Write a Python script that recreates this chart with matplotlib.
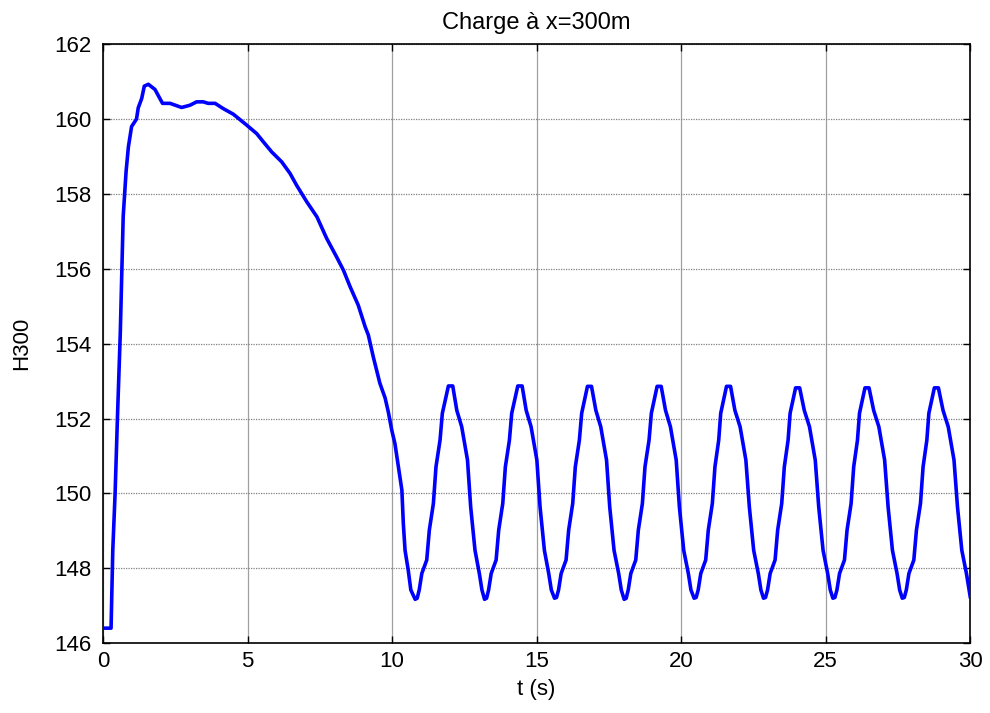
#Charge at x=300m : head H300 vs time
#
#

import matplotlib.pyplot as plt
import numpy as np

plt.rcParams['font.family'] = ['Liberation Sans', 'DejaVu Sans']

# start-up transient
t_rise = [0, 0.28, 0.34, 0.42, 0.50, 0.60, 0.70, 0.80, 0.88, 0.99, 1.16, 1.22, 1.34, 1.43, 1.57,
          1.80, 2.06, 2.32, 2.72, 3.01, 3.24, 3.47, 3.64, 3.88, 4.16, 4.51, 4.97, 5.32, 5.55,
          5.84, 6.18, 6.47, 6.70, 7.05, 7.40, 7.74, 8.08, 8.32, 8.55, 8.83, 9.07, 9.18, 9.35,
          9.58, 9.76, 9.87, 9.99, 10.10, 10.22, 10.34, 10.39, 10.45, 10.56, 10.65]
H_rise = [146.4, 146.4, 148.49, 150.0, 152.0, 154.3, 157.4, 158.6, 159.26, 159.8, 160.0, 160.3,
          160.55, 160.88, 160.93, 160.79, 160.42, 160.42, 160.31, 160.37, 160.46, 160.46, 160.42,
          160.42, 160.28, 160.13, 159.84, 159.61, 159.39, 159.12, 158.86, 158.55, 158.23, 157.79,
          157.39, 156.81, 156.32, 155.96, 155.52, 155.03, 154.45, 154.23, 153.65, 152.94, 152.55,
          152.18, 151.69, 151.33, 150.71, 150.09, 149.20, 148.48, 147.95, 147.42]

# oscillation part, one row per cycle (trough -> trough)
t_osc = [
    [10.80, 10.87, 10.94, 11.03, 11.20, 11.29, 11.43, 11.52, 11.66, 11.74, 11.95, 12.10, 12.24, 12.41, 12.61, 12.72, 12.87, 13.02, 13.11],
    [13.20, 13.27, 13.34, 13.43, 13.60, 13.69, 13.83, 13.92, 14.06, 14.14, 14.35, 14.50, 14.64, 14.81, 15.01, 15.12, 15.27, 15.42, 15.51],
    [15.62, 15.69, 15.76, 15.85, 16.02, 16.11, 16.25, 16.34, 16.48, 16.56, 16.76, 16.90, 17.05, 17.22, 17.42, 17.53, 17.68, 17.84, 17.93],
    [18.03, 18.10, 18.17, 18.26, 18.43, 18.52, 18.66, 18.75, 18.89, 18.97, 19.17, 19.31, 19.46, 19.63, 19.83, 19.94, 20.09, 20.25, 20.34],
    [20.45, 20.52, 20.59, 20.68, 20.85, 20.94, 21.08, 21.17, 21.30, 21.37, 21.57, 21.71, 21.86, 22.04, 22.24, 22.36, 22.51, 22.67, 22.76],
    [22.85, 22.92, 22.99, 23.08, 23.25, 23.34, 23.48, 23.57, 23.70, 23.77, 23.96, 24.10, 24.26, 24.44, 24.64, 24.76, 24.91, 25.07, 25.16],
    [25.25, 25.32, 25.39, 25.48, 25.65, 25.74, 25.88, 25.97, 26.10, 26.17, 26.36, 26.50, 26.66, 26.84, 27.04, 27.16, 27.31, 27.47, 27.56],
    [27.65, 27.72, 27.79, 27.88, 28.05, 28.14, 28.28, 28.37, 28.50, 28.57, 28.76, 28.90, 29.06, 29.24, 29.44, 29.56, 29.71, 29.87, 29.96, 30.00],
]
H_osc = [
    [147.17, 147.20, 147.42, 147.86, 148.22, 149.02, 149.73, 150.71, 151.42, 152.14, 152.87, 152.87, 152.22, 151.78, 150.89, 149.64, 148.48, 147.86, 147.42],
    [147.17, 147.20, 147.42, 147.86, 148.22, 149.02, 149.73, 150.71, 151.42, 152.14, 152.87, 152.87, 152.22, 151.78, 150.89, 149.64, 148.48, 147.86, 147.42],
    [147.20, 147.22, 147.42, 147.86, 148.22, 149.02, 149.73, 150.71, 151.42, 152.14, 152.86, 152.86, 152.22, 151.78, 150.89, 149.64, 148.48, 147.86, 147.42],
    [147.17, 147.20, 147.42, 147.86, 148.22, 149.02, 149.73, 150.71, 151.42, 152.14, 152.86, 152.86, 152.22, 151.78, 150.89, 149.64, 148.48, 147.86, 147.42],
    [147.20, 147.22, 147.42, 147.86, 148.22, 149.02, 149.73, 150.71, 151.42, 152.14, 152.86, 152.86, 152.22, 151.78, 150.89, 149.64, 148.48, 147.86, 147.42],
    [147.20, 147.22, 147.42, 147.86, 148.22, 149.02, 149.73, 150.71, 151.42, 152.14, 152.82, 152.82, 152.22, 151.78, 150.89, 149.64, 148.48, 147.86, 147.42],
    [147.20, 147.22, 147.42, 147.86, 148.22, 149.02, 149.73, 150.71, 151.42, 152.14, 152.82, 152.82, 152.22, 151.78, 150.89, 149.64, 148.48, 147.86, 147.42],
    [147.20, 147.22, 147.42, 147.86, 148.22, 149.02, 149.73, 150.71, 151.42, 152.14, 152.82, 152.82, 152.22, 151.78, 150.89, 149.64, 148.48, 147.86, 147.42, 147.24],
]

t = np.concatenate([t_rise] + t_osc)
H = np.concatenate([H_rise] + H_osc)

xticks = [0, 5, 10, 15, 20, 25, 30]
yticks = [146, 148, 150, 152, 154, 156, 158, 160, 162]

fig = plt.figure(figsize=(9.9, 7.13), dpi=100)
ax = fig.add_axes([0.104, 0.098, 0.876, 0.840])

ax.plot(t, H, color='#0000ff', linewidth=2.6, zorder=3)

ax.set_xlim(0, 30)
ax.set_ylim(146, 162)
ax.set_xticks(xticks)
ax.set_yticks(yticks)
ax.xaxis.grid(True, color='#a0a0a0', linestyle='-', linewidth=0.9)
ax.yaxis.grid(True, color='#808080', linestyle=(0, (1, 1)), linewidth=0.9)
ax.tick_params(axis='both', direction='in', length=5, width=1, labelsize=16,
               top=True, right=True)
ax.tick_params(axis='y', pad=8)
ax.tick_params(axis='x', pad=6)
for s in ax.spines.values():
    s.set_linewidth(1.2)

ax.set_title('Charge à x=300m', fontsize=17, pad=11)
ax.set_xlabel('t (s)', fontsize=16, labelpad=5)
ax.set_ylabel('H300', fontsize=16, labelpad=16)

plt.savefig('out.png', dpi=100)
